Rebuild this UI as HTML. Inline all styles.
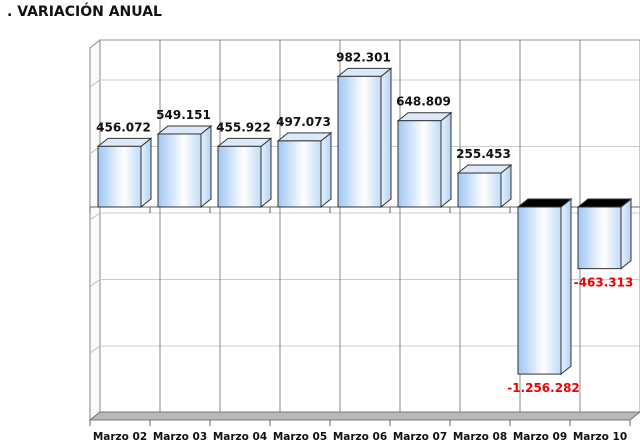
<!DOCTYPE html>
<html><head><meta charset="utf-8"><style>
body{margin:0;background:#fff;width:640px;height:444px;overflow:hidden;font-family:"DejaVu Sans","Liberation Sans",sans-serif}
#t{position:absolute;left:7px;top:4px;font-size:14px;font-weight:bold;color:#111}
</style></head><body>
<div id="t">. VARIACIÓN ANUAL</div>
<svg id="c" width="640" height="444" style="position:absolute;left:0;top:0">
<defs><linearGradient id="g" x1="0" x2="1" y1="0" y2="0"><stop offset="0" stop-color="#9fc7f3"/><stop offset="0.6" stop-color="#ffffff"/><stop offset="1" stop-color="#c0dbf8"/></linearGradient>
<linearGradient id="gs" x1="0" x2="1"><stop offset="0" stop-color="#e8f2fd"/><stop offset="1" stop-color="#b3d2f3"/></linearGradient></defs>
</svg>
<script>
const categories=["Marzo 02","Marzo 03","Marzo 04","Marzo 05","Marzo 06","Marzo 07","Marzo 08","Marzo 09","Marzo 10"];
const values=[456072,549151,455922,497073,982301,648809,255453,-1256282,-463313];
const labels=["456.072","549.151","455.922","497.073","982.301","648.809","255.453","-1.256.282","-463.313"];
const svg=document.getElementById('c');const NS='http://www.w3.org/2000/svg';
function mk(t,a,p){const e=document.createElementNS(NS,t);for(const k in a)e.setAttribute(k,a[k]);(p||svg).appendChild(e);return e;}
const X0=100,CW=60,ZERO=207,PX=66.5/500000,DX=10,DY=-8;
function y(v){return ZERO-v*PX;}
function xc(i){return X0+i*CW;}
let e=mk('rect',{x:100,y:40,width:540,height:372,fill:'#fff',stroke:'#999'});

e=mk('polygon',{points:'90,48 100,40 100,412 90,420',fill:'#fafafa',stroke:'#888'});

[-1500000,-1000000,-500000,0,500000,1000000].forEach(v=>{const yy=y(v)+6;
 const l=mk('line',{x1:100,x2:640,y1:yy,y2:yy,stroke:'#ccc'});
 const s=mk('line',{x1:90,x2:100,y1:yy+7,y2:yy,stroke:'#bbb'});});
for(let i=1;i<categories.length;i++){const l=mk('line',{x1:xc(i),x2:xc(i),y1:40,y2:412,stroke:'#888'});}
e=mk('polygon',{points:'90,420 100,412 640,412 630,420',fill:'#b8b8b8',stroke:'#777'});

e=mk('line',{x1:90,x2:640,y1:ZERO,y2:ZERO,stroke:'#666'});

for(let i=0;i<=categories.length;i++){const tk=mk('line',{x1:xc(i)-10,x2:xc(i)-10,y1:ZERO,y2:ZERO+6,stroke:'#666'});
 const ft=mk('line',{x1:xc(i)-10,x2:xc(i)-10,y1:420,y2:426,stroke:'#666'});}
values.forEach((v,i)=>{const g=mk('g',{});
 const x=xc(i)-2,w=43,yt=Math.min(y(v),ZERO),yb=Math.max(y(v),ZERO);
 mk('polygon',{points:`${x+w},${yt} ${x+w+DX},${yt+DY} ${x+w+DX},${yb+DY} ${x+w},${yb}`,fill:'url(#gs)',stroke:'#333','stroke-width':1},g);
 mk('polygon',{points:`${x},${yt} ${x+DX},${yt+DY} ${x+w+DX},${yt+DY} ${x+w},${yt}`,fill:v<0?'#000':'#dbe9fa',stroke:'#333'},g);
 mk('rect',{x:x,y:yt,width:w,height:yb-yt,fill:'url(#g)',stroke:'#333'},g);
 const t=mk('text',{x:x+w/2+4,y:v<0?yb+18:yt-15,'text-anchor':'middle','font-size':12,'font-weight':'bold',fill:v<0?'#e00':'#111'});
 t.textContent=labels[i];
 const c=mk('text',{x:xc(i)+20,y:440,'text-anchor':'middle','font-size':10.5,'font-weight':'bold',fill:'#111'});
 c.textContent=categories[i];
});
</script>
</body></html>
